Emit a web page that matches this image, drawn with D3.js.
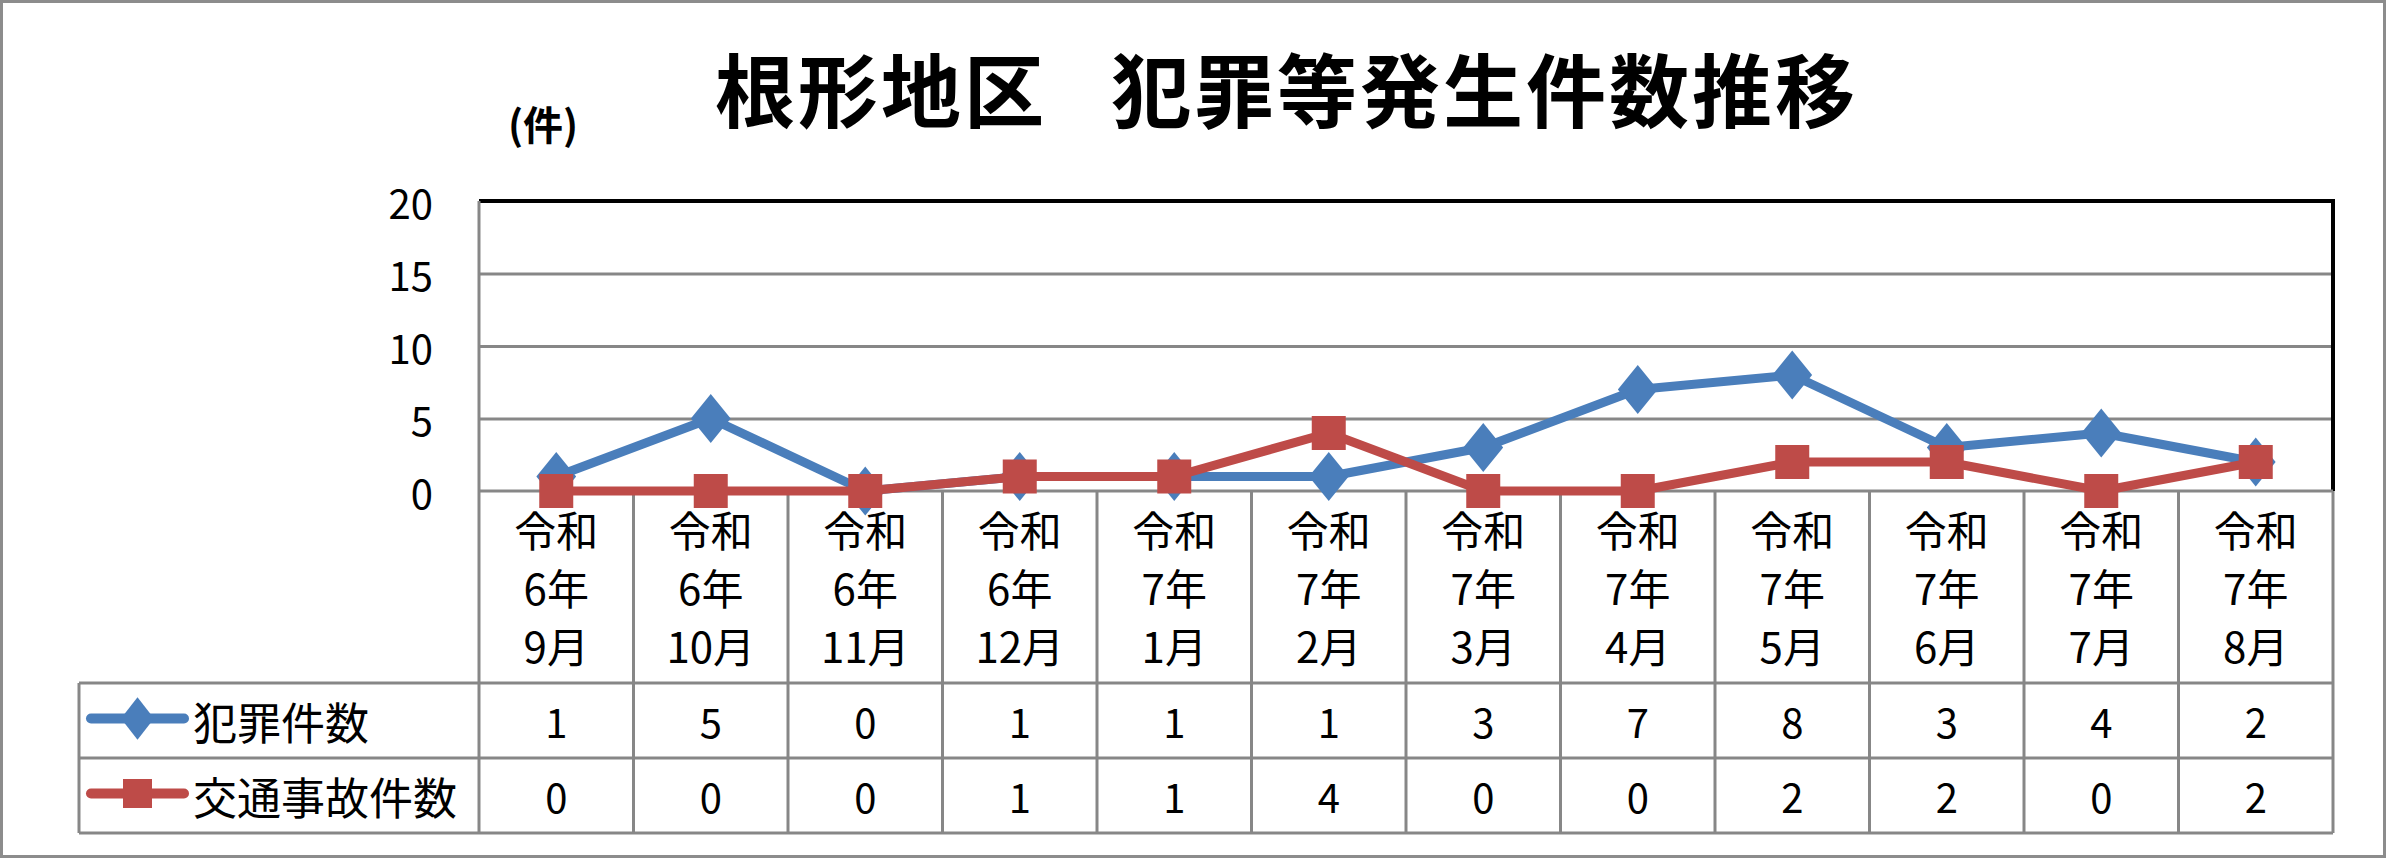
<!DOCTYPE html>
<html>
<head>
<meta charset="utf-8">
<script src="https://cdn.jsdelivr.net/npm/d3@7"></script>
<style>
  body { margin: 0; background: #fff; }
  text { font-family: "Noto Sans CJK JP", "Noto Sans", sans-serif; fill: #000; }
</style>
</head>
<body>
<div class="chart"></div>
<script>
// data
var categories = ["令和6年9月", "令和6年10月", "令和6年11月", "令和6年12月",
    "令和7年1月", "令和7年2月", "令和7年3月", "令和7年4月",
    "令和7年5月", "令和7年6月", "令和7年7月", "令和7年8月"];
var crimeCounts = [1, 5, 0, 1, 1, 1, 3, 7, 8, 3, 4, 2];
var accidentCounts = [0, 0, 0, 1, 1, 4, 0, 0, 2, 2, 0, 2];
var seriesNames = ["犯罪件数", "交通事故件数"];
var yTicks = [0, 5, 10, 15, 20];

var svgWidth = 2386;
var svgHeight = 858;

var plot = { left: 479, right: 2333, top: 201, bottom: 491 };
var table = { left: 79, top: 683, mid: 758, bottom: 833 };

var blue = "#4A7EBB";
var red = "#BE4B48";
var gridGray = "#878787";

var svg = d3.select(".chart")
    .append("svg")
    .attr("width", svgWidth)
    .attr("height", svgHeight);

// outer frame
svg.append("rect")
    .attr("x", 1.5).attr("y", 1.5)
    .attr("width", svgWidth - 3).attr("height", svgHeight - 3)
    .attr("fill", "#fff")
    .attr("stroke", "#8c8c8c")
    .attr("stroke-width", 3);

// scales
var xScale = d3.scaleBand()
    .domain(categories)
    .range([plot.left, plot.right]);

var yScale = d3.scaleLinear()
    .domain([0, 20])
    .range([plot.bottom, plot.top]);

// title (two parts, gap between them)
var title = svg.append("text")
    .attr("y", 86)
    .attr("dominant-baseline", "central")
    .style("font-size", "80px")
    .style("font-weight", "bold")
    .style("letter-spacing", "3px");

title.append("tspan")
    .attr("x", 715)
    .attr("dominant-baseline", "central")
    .text("根形地区");

title.append("tspan")
    .attr("x", 1111)
    .attr("dominant-baseline", "central")
    .text("犯罪等発生件数推移");

// unit
svg.append("text")
    .attr("x", 543)
    .attr("y", 123)
    .attr("text-anchor", "middle")
    .attr("dominant-baseline", "central")
    .style("font-size", "40px")
    .style("font-weight", "bold")
    .text("(件)");

// gridlines
var gridAxis = d3.axisLeft(yScale)
    .tickValues(yTicks.slice(1, -1))
    .tickSize(-(plot.right - plot.left))
    .tickFormat("");

svg.append("g")
    .attr("transform", `translate(${plot.left},0)`)
    .call(gridAxis)
    .call(g => g.select(".domain").remove())
    .selectAll("line")
    .attr("stroke", gridGray)
    .attr("stroke-width", 3);

// y axis labels
var leftAxis = d3.axisLeft(yScale)
    .tickValues(yTicks)
    .tickSize(0)
    .tickPadding(46);

svg.append("g")
    .attr("transform", `translate(${plot.left},0)`)
    .call(leftAxis)
    .call(g => g.select(".domain").remove())
    .selectAll("text")
    .attr("dy", null)
    .attr("dominant-baseline", "central")
    .style("font-size", "40px")
    .style("font-family", "'Noto Sans CJK JP', sans-serif");

// plot border: top and right black, left and bottom gray
svg.append("path")
    .attr("d", `M${plot.left},${plot.top}H${plot.right}V${plot.bottom}`)
    .attr("fill", "none")
    .attr("stroke", "#000")
    .attr("stroke-width", 4);

svg.append("line")
    .attr("x1", plot.left).attr("x2", plot.right)
    .attr("y1", plot.bottom).attr("y2", plot.bottom)
    .attr("stroke", gridGray).attr("stroke-width", 3);

// data table grid
var colEdges = categories.map(c => xScale(c)).concat([plot.right]);

svg.append("g")
    .selectAll("line")
    .data(colEdges)
    .enter()
    .append("line")
    .attr("x1", d => d).attr("x2", d => d)
    .attr("y1", (d, i) => i === 0 ? plot.top : plot.bottom)
    .attr("y2", table.bottom)
    .attr("stroke", gridGray)
    .attr("stroke-width", 3);

svg.append("g")
    .selectAll("line")
    .data([table.top, table.mid, table.bottom])
    .enter()
    .append("line")
    .attr("x1", table.left).attr("x2", plot.right)
    .attr("y1", d => d).attr("y2", d => d)
    .attr("stroke", gridGray)
    .attr("stroke-width", 3);

svg.append("line")
    .attr("x1", table.left).attr("x2", table.left)
    .attr("y1", table.top).attr("y2", table.bottom)
    .attr("stroke", gridGray)
    .attr("stroke-width", 3);

// category labels (three lines each)
var labelGroup = svg.append("g");
categories.forEach(function(c) {
    var parts = c.match(/^(令和)(\d+年)(\d+月)$/).slice(1);
    var cx = xScale(c) + xScale.bandwidth() / 2;
    labelGroup.append("text")
        .attr("text-anchor", "middle")
        .style("font-size", "42px")
        .selectAll("tspan")
        .data(parts)
        .enter()
        .append("tspan")
        .attr("x", cx)
        .attr("y", (d, i) => 528 + i * 58)
        .attr("dominant-baseline", "central")
        .text(d => d);
});

// table values
var rows = [
    { name: seriesNames[0], values: crimeCounts, color: blue, shape: d3.symbolDiamond, y: (table.top + table.mid) / 2 },
    { name: seriesNames[1], values: accidentCounts, color: red, shape: d3.symbolSquare, y: (table.mid + table.bottom) / 2 }
];

rows.forEach(function(row) {
    svg.append("g")
        .selectAll("text")
        .data(row.values)
        .enter()
        .append("text")
        .attr("x", (d, i) => xScale(categories[i]) + xScale.bandwidth() / 2)
        .attr("y", row.y)
        .attr("text-anchor", "middle")
        .attr("dominant-baseline", "central")
        .style("font-size", "40px")
        .text(d => d);

    // legend key
    svg.append("line")
        .attr("x1", 91).attr("x2", 184)
        .attr("y1", row.y - 2).attr("y2", row.y - 2)
        .attr("stroke", row.color)
        .attr("stroke-width", 10)
        .attr("stroke-linecap", "round");

    svg.append("path")
        .attr("d", d3.symbol().type(row.shape).size(row.shape === d3.symbolSquare ? 840 : 520)())
        .attr("transform", `translate(137.5,${row.y - 2})` + (row.shape === d3.symbolDiamond ? " scale(1.35,1)" : ""))
        .attr("fill", row.color);

    svg.append("text")
        .attr("x", 193)
        .attr("y", row.y)
        .attr("dominant-baseline", "central")
        .style("font-size", "44px")
        .text(row.name);
});

// lines and markers
var line = d3.line()
    .x((d, i) => xScale(categories[i]) + xScale.bandwidth() / 2)
    .y(d => yScale(d));

rows.forEach(function(row) {
    svg.append("path")
        .datum(row.values)
        .attr("d", line)
        .attr("fill", "none")
        .attr("stroke", row.color)
        .attr("stroke-width", 9)
        .attr("stroke-linejoin", "round");

    svg.append("g")
        .selectAll("path")
        .data(row.values)
        .enter()
        .append("path")
        .attr("d", d3.symbol().type(row.shape).size(row.shape === d3.symbolSquare ? 1156 : 700))
        .attr("transform", (d, i) => `translate(${xScale(categories[i]) + xScale.bandwidth() / 2},${yScale(d)})` +
            (row.shape === d3.symbolDiamond ? " scale(1.4,1)" : ""))
        .attr("fill", row.color);
});
</script>
</body>
</html>
